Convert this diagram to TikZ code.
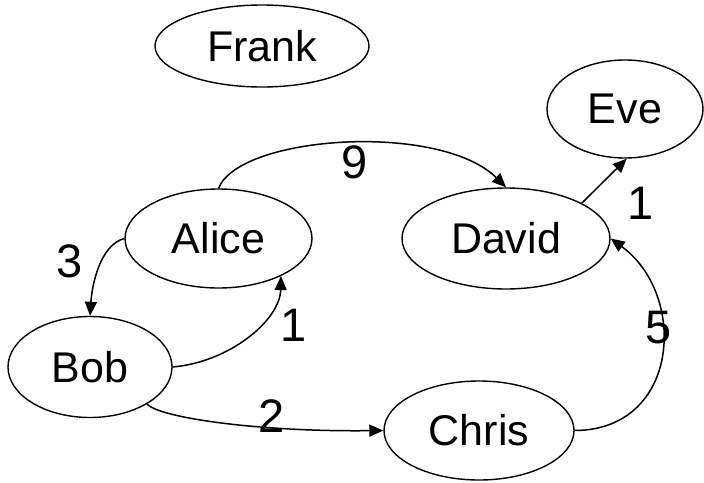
\documentclass[tikz,border=0pt]{standalone}
\usepackage{fontspec}
\setmainfont{Liberation Sans}
\usetikzlibrary{shapes.geometric,arrows.meta}
\begin{document}
\begin{tikzpicture}[x=1pt,y=-1pt,
  person/.style={draw, ellipse, line width=1.4pt, inner sep=0pt, font=\fontsize{43}{48}\selectfont},
  edge/.style={line width=1.5pt, -{Triangle[length=14pt,width=12pt]}},
  weight/.style={font=\fontsize{47}{52}\selectfont, inner sep=0pt}]
\useasboundingbox (0,0) rectangle (704,482);
\node[person, minimum width=214pt, minimum height=82pt] (frank) at (262,46) {\raisebox{-3.5pt}{Frank}};
\node[person, minimum width=156pt, minimum height=98pt] (eve) at (625,109) {\raisebox{-3.5pt}{Eve}};
\node[person, minimum width=208pt, minimum height=101pt] (david) at (506,238.5) {\raisebox{-3.5pt}{David}};
\node[person, minimum width=187pt, minimum height=99pt] (alice) at (218.5,238.5) {\raisebox{-3.5pt}{Alice}};
\node[person, minimum width=164pt, minimum height=101pt] (bob) at (90,367) {\raisebox{-3.5pt}{Bob}};
\node[person, minimum width=190pt, minimum height=99pt] (chris) at (479,430.5) {\raisebox{-3.5pt}{Chris}};

\draw[edge] (alice.north) .. controls (240,135) and (440,122) .. (david.north);
\draw[edge] (alice.west) .. controls (100,245) and (92,285) .. (bob.north);
\draw[edge] (bob.east) .. controls (230,362) and (280,320) .. (alice.-31);
\draw[edge] (bob.-33) .. controls (160,418) and (260,432) .. (chris.west);
\draw[edge] (chris.east) .. controls (680,430) and (688,295) .. (david.east);
\draw[edge] (david.25) -- (eve.-88);

\node[weight] (w9) at (355,162) {9};
\node[weight] (w3) at (70,261) {3};
\node[weight] (w1a) at (294,325) {1};
\node[weight] (w2) at (272,416) {2};
\node[weight] (w5) at (659,328) {5};
\node[weight] (w1b) at (641,203) {1};
\end{tikzpicture}
\end{document}
